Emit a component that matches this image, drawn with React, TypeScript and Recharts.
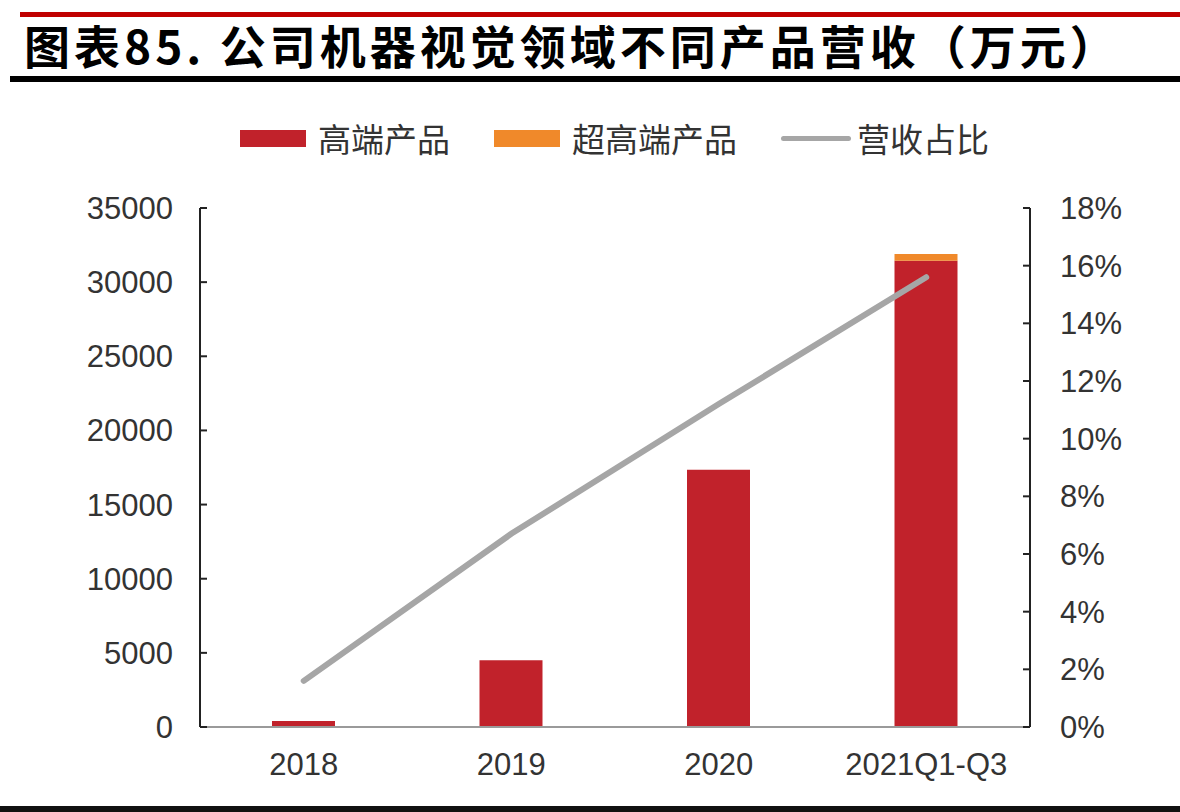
import React from "react";
import {
  Bar,
  ComposedChart,
  Line,
  XAxis,
  YAxis
} from "recharts";

const categories = ["2018", "2019", "2020", "2021Q1-Q3"];
const highEnd = [400, 4500, 17350, 31450];
const ultraHighEnd = [0, 0, 0, 450];
const revenueShare = [1.6, 6.7, 11.2, 15.6];

const leftTicks = [0, 5000, 10000, 15000, 20000, 25000, 30000, 35000];
const rightTicks = [0, 2, 4, 6, 8, 10, 12, 14, 16, 18];

const RED = "#C1222B";
const ORANGE = "#F0892A";
const GRAY = "#A6A6A6";
const TEXT = "#333333";
const FONT = "'Liberation Sans', Arial, 'Noto Sans CJK SC', sans-serif";

const data = categories.map((name, i) => ({
  name,
  high: highEnd[i],
  ultra: ultraHighEnd[i],
  share: revenueShare[i]
}));

const tickStyle = { fontSize: 31, fill: TEXT, fontFamily: FONT };

function LegendItem({ color, label, line }: { color: string; label: string; line?: boolean }) {
  return (
    <div style={{ display: "flex", alignItems: "center", marginRight: 44 }}>
      {line ? (
        <div style={{ width: 70, height: 5, borderRadius: 3, background: GRAY, marginRight: 6 }} />
      ) : (
        <div style={{ width: 66, height: 17, background: color, marginRight: 12 }} />
      )}
      <span style={{ fontSize: 33, color: TEXT, fontFamily: "'Noto Sans CJK SC', sans-serif" }}>{label}</span>
    </div>
  );
}

export default function App() {
  return (
    <div
      style={{
        position: "absolute",
        left: 0,
        top: 0,
        width: 1180,
        height: 812,
        background: "#fff",
        overflow: "hidden"
      }}
    >
      <div style={{ position: "absolute", left: 20, top: 12, width: 1160, height: 5, background: "#C00000" }} />
      <div
        style={{
          position: "absolute",
          left: 24,
          top: 14,
          fontSize: 46,
          fontWeight: 700,
          color: "#000",
          fontFamily: "'Noto Sans CJK SC', sans-serif",
          lineHeight: "60px",
          letterSpacing: 4,
          whiteSpace: "nowrap"
        }}
      >
        图表85. 公司机器视觉领域不同产品营收（万元）
      </div>
      <div style={{ position: "absolute", left: 10, top: 76, width: 1170, height: 6, background: "#000" }} />
      <div style={{ position: "absolute", left: 0, top: 806, width: 1180, height: 6, background: "#111" }} />

      <div style={{ position: "absolute", left: 240, top: 114, display: "flex" }}>
        <LegendItem color={RED} label="高端产品" />
        <LegendItem color={ORANGE} label="超高端产品" />
        <LegendItem color={GRAY} label="营收占比" line />
      </div>

      <div style={{ position: "absolute", left: 0, top: 0 }}>
        <ComposedChart
          width={1180}
          height={812}
          data={data}
          margin={{ top: 208, right: 30, bottom: 25, left: 80 }}
        >
          <XAxis
            dataKey="name"
            xAxisId={0}
            tick={tickStyle}
            tickLine={false}
            tickSize={0}
            tickMargin={26}
            height={60}
            axisLine={{ stroke: "#9a9a9a", strokeWidth: 2 }}
            interval={0}
          />
          <YAxis
            yAxisId="left"
            orientation="left"
            width={120}
            domain={[0, 35000]}
            ticks={leftTicks}
            interval={0}
            tick={tickStyle}
            tickSize={-7}
            tickMargin={34}
            tickLine={{ stroke: "#222", strokeWidth: 2 }}
            axisLine={{ stroke: "#222", strokeWidth: 2 }}
          />
          <YAxis
            yAxisId="right"
            orientation="right"
            width={120}
            domain={[0, 18]}
            ticks={rightTicks}
            interval={0}
            tick={tickStyle}
            tickSize={-7}
            tickMargin={37}
            tickFormatter={(v: number) => `${v}%`}
            tickLine={{ stroke: "#222", strokeWidth: 2 }}
            axisLine={{ stroke: "#222", strokeWidth: 2 }}
          />
          <Bar
            yAxisId="left"
            dataKey="high"
            stackId="a"
            fill={RED}
            barSize={63}
            isAnimationActive={false}
          />
          <Bar
            yAxisId="left"
            dataKey="ultra"
            stackId="a"
            fill={ORANGE}
            barSize={63}
            isAnimationActive={false}
          />
          <Line
            yAxisId="right"
            dataKey="share"
            type="linear"
            stroke={GRAY}
            strokeWidth={6}
            strokeLinecap="round"
            dot={false}
            activeDot={false}
            isAnimationActive={false}
          />
        </ComposedChart>
      </div>
    </div>
  );
}
